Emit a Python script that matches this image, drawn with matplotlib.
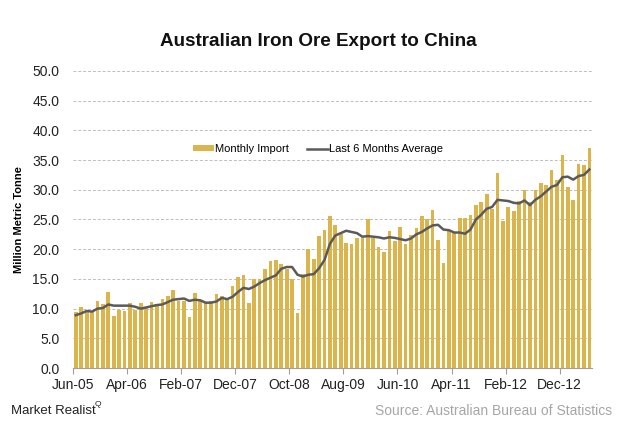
import numpy as np
import matplotlib.pyplot as plt

plt.rcParams['font.family'] = ['Liberation Sans', 'DejaVu Sans']

# monthly exports Jun-05 .. May-13, million metric tonne
monthly = [9.4, 10.3, 9.7, 9.4, 11.2, 10.8, 12.8, 8.8, 9.8, 9.6,
           11.0, 9.7, 11.0, 10.3, 11.1, 10.7, 11.6, 12.1, 13.1, 11.2,
           11.2, 8.6, 12.7, 11.3, 11.0, 11.2, 12.5, 12.2, 11.5, 13.8,
           15.3, 15.7, 11.0, 15.0, 14.9, 16.7, 18.0, 18.2, 17.5, 16.6,
           14.9, 9.2, 15.8, 20.0, 18.4, 22.3, 23.3, 25.5, 24.1, 22.5,
           21.1, 20.9, 21.9, 21.8, 25.0, 21.9, 20.4, 19.6, 23.0, 21.3,
           23.8, 20.9, 22.4, 23.5, 25.5, 25.0, 26.6, 21.5, 17.6, 23.1,
           22.8, 25.3, 25.3, 25.8, 27.4, 28.0, 29.2, 26.7, 32.8, 24.8,
           27.1, 26.4, 28.1, 30.0, 27.9, 30.0, 31.1, 30.8, 33.3, 31.6,
           35.9, 30.4, 28.3, 34.3, 34.2, 37.1]

avg6 = [8.9, 9.2, 9.6, 9.5, 10.0, 10.1, 10.7, 10.5, 10.5, 10.5,
        10.5, 10.3, 10.0, 10.2, 10.4, 10.6, 10.7, 11.1, 11.5, 11.6,
        11.7, 11.3, 11.5, 11.4, 11.0, 11.0, 11.2, 11.8, 11.6, 12.0,
        12.8, 13.5, 13.3, 13.7, 14.3, 14.8, 15.2, 15.6, 16.7, 17.0,
        17.0, 15.7, 15.4, 15.7, 15.8, 16.8, 18.2, 20.9, 22.3, 22.7,
        23.1, 22.9, 22.7, 22.1, 22.2, 22.1, 22.0, 21.8, 22.0, 21.9,
        21.7, 21.5, 21.8, 22.5, 22.9, 23.5, 24.0, 24.1, 23.3, 23.2,
        22.8, 22.8, 22.6, 23.3, 25.0, 25.8, 26.8, 27.1, 28.3, 28.2,
        28.1, 27.8, 27.7, 28.2, 27.4, 28.3, 28.9, 29.7, 30.5, 30.8,
        32.1, 32.2, 31.7, 32.3, 32.5, 33.4]

tick_labels = ['Jun-05', 'Apr-06', 'Feb-07', 'Dec-07', 'Oct-08',
               'Aug-09', 'Jun-10', 'Apr-11', 'Feb-12', 'Dec-12']

n = len(monthly)
x = np.arange(n) + 0.5

fig = plt.figure(figsize=(6.2, 4.32), dpi=100)
ax = fig.add_axes([0.118, 0.148, 0.837, 0.688])

bars = ax.bar(x, monthly, width=0.68, color='#DBB54C', zorder=2)
line, = ax.plot(x, avg6, color='#5a5a5a', lw=1.8, zorder=3)

ax.set_xlim(0, n)
ax.set_ylim(0, 50)
ax.set_yticks(np.arange(0, 50.1, 5))
ax.set_yticklabels(['%.1f' % v for v in np.arange(0, 50.1, 5)], fontsize=10, color='#222222')
ax.set_xticks(np.arange(0, 91, 10))
ax.set_xticklabels(tick_labels, fontsize=10, color='#222222')
ax.tick_params(axis='y', length=0, pad=10)
ax.tick_params(axis='x', length=4, color='#a0a0a0', pad=3)

for v in np.arange(5, 50.1, 5):
    ax.axhline(v, color='#bdbdbd', lw=0.7, ls=(0, (3, 2)), zorder=1)

for s in ['top', 'right', 'left']:
    ax.spines[s].set_visible(False)
ax.spines['bottom'].set_color('#a0a0a0')

ax.set_ylabel('Million Metric Tonne', fontsize=8, fontweight='bold', labelpad=6)

ax.legend([bars, line], ['Monthly Import', 'Last 6 Months Average'],
          loc='center', bbox_to_anchor=(0.472, 0.737), ncol=2, frameon=False,
          fontsize=8, handlelength=1.9, handleheight=0.45, handletextpad=0.1,
          columnspacing=1.6)

fig.text(0.513, 0.905, 'Australian Iron Ore Export to China', ha='center', va='center',
         fontsize=13.6, fontweight='bold', color='#111111')

fig.text(0.018, 0.048, 'Market Realist', fontsize=9.5, color='#222222', va='center')
fig.text(0.153, 0.064, 'Q', fontsize=6, color='#222222', va='center')
fig.text(0.987, 0.048, 'Source: Australian Bureau of Statistics', fontsize=10,
         color='#a6a6a6', ha='right', va='center')

fig.savefig('out.png', dpi=100)
